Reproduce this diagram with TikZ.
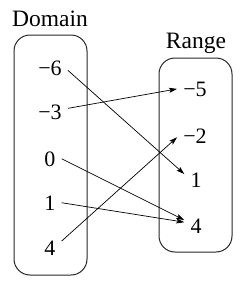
\documentclass[tikz,border=0pt]{standalone}
\usepackage{fontspec}
\setmainfont{Liberation Serif}
\usetikzlibrary{arrows.meta}

\begin{document}
\begin{tikzpicture}[
  x=1pt, y=-1pt,
  num/.style={anchor=base, inner xsep=6pt, inner ysep=3pt, font=\fontsize{22pt}{26pt}\selectfont},
  title/.style={anchor=base, inner sep=0pt, font=\fontsize{23.5pt}{28pt}\selectfont},
  set/.style={draw=black!85, line width=1pt, rounded corners=16pt, minimum width=73pt, inner sep=0pt},
  map/.style={-{Stealth[length=8pt,width=5pt,inset=1.5pt]}, line width=0.7pt}
]
\useasboundingbox (0,0) rectangle (247,282);

% ---------- Sets ----------
\node[set, minimum height=240pt] (dombox) at (50.5,155) {};
\node[set, minimum height=194pt] (ranbox) at (195.5,155) {};
\node[title] (domlbl) at (50,26) {Domain};
\node[title] (ranlbl) at (196,48) {Range};

% ---------- Domain values ----------
\node[num] (dm6) at (50,75) {−6};
\node[num] (dm3) at (50,119) {−3};
\node[num] (d0) at (50,166) {0};
\node[num] (d1) at (50,210) {1};
\node[num] (d4) at (50,255) {4};

% ---------- Range values ----------
\node[num] (rm5) at (195,96) {−5};
\node[num] (rm2) at (195,143) {−2};
\node[num] (r1) at (196,187) {1};
\node[num] (r4) at (196,233) {4};

% ---------- Mapping ----------
\draw[map] (dm6.-8) -- (r1.154);
\draw[map] (dm3.11) -- (rm5.west);
\draw[map] (d0.east) -- (r4.154);
\draw[map] (d1.east) -- (r4.163);
\draw[map] (d4.30) -- (rm2.185);

\end{tikzpicture}
\end{document}
